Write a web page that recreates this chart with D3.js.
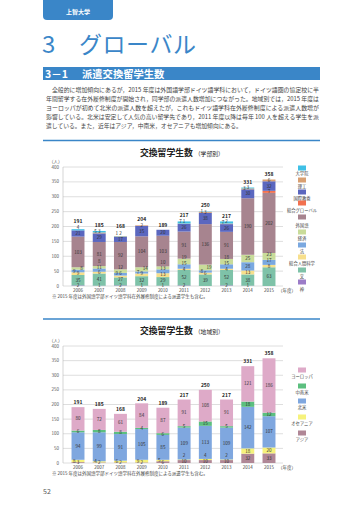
<!DOCTYPE html>
<html><head><meta charset="utf-8">
<script src="https://cdn.jsdelivr.net/npm/d3@7"></script>
<style>
html,body{margin:0;padding:0;background:#fff;}
svg{display:block;font-family:"Noto Sans CJK JP","Noto Sans",sans-serif;}
</style></head>
<body><svg id="c" width="360" height="509"></svg>
<script>
// ---------- DATA ----------
const years = ["2006","2007","2008","2009","2010","2011","2012","2013","2014","2015"];
const yTicks = [0,50,100,150,200,250,300,350,400];

// Chart 1: by faculty (stack order bottom -> top)
const facultyNames = ["神","文","総合人間科学","法","経済","外国語","総合グローバル","国際教養","理工","大学院"];
const fac_kami   = [2, 1, 2, 1, 1, 2, 0, 2, 1, 0];
const fac_bun    = [35,41,27,32,29,52,39,52,38,63];
const fac_sogo   = [9, 6, 6, 9, 13,4, 6, 4, 13,8];
const fac_ho     = [9, 11,9, 7, 13,15,8, 15,28,17];
const fac_keizai = [8, 8, 12,14,10,19,19,18,25,23];
const fac_gaikoku= [103,81,92,104,103,91,136,91,190,202];
const fac_global = [0, 0, 0, 0, 0, 0, 0, 0, 0, 7];
const fac_kokusai= [21,29,17,35,20,26,38,26,30,32];
const fac_riko   = [0, 3, 2, 2, 0, 1, 3, 2, 3, 6];
const fac_grad   = [4, 5, 1, 0, 0, 7, 1, 7, 3, 0];
const facTotals  = [191,185,168,204,189,217,250,217,331,358];

// Chart 2: by region (bottom -> top)
const regionNames = ["アジア","オセアニア","北米","中南米","ヨーロッパ"];
const reg_asia    = [3, 2, 2, 2, 6, 10,10,10,32,33];
const reg_oceania = [8, 4, 6, 9, 5, 2, 4, 2, 18,20];
const reg_na      = [94,99,91,105,85,109,113,109,142,107];
const reg_la      = [6, 8, 8, 4, 6, 5, 15,5, 18,12];
const reg_europe  = [80,72,61,84,87,91,108,91,121,186];
const regTotals   = [191,185,168,204,189,217,250,217,331,358];

const facColors = ["#9b7cc8","#7ec2a8","#f7df8c","#7aa8e0","#c9dc9a","#a7848f","#f2714f","#5b67bf","#d9a072","#3fc0e6"];
const regColors = ["#b08796","#f6f27c","#7fa7df","#5cbf7f","#deaac8"];

const blue = "#3a86c8";
const svg = d3.select("#c");

// ---------- HEADER ----------
svg.append("path").attr("d","M43,0 H113 V16 Q113,20 109,20 H47 Q43,20 43,16 Z").attr("fill",blue);
svg.append("text").attr("x",78).attr("y",13.5).attr("text-anchor","middle").attr("font-size",6).attr("fill","#fff").attr("font-weight","bold").text("上智大学");
svg.append("text").attr("x",42).attr("y",53).attr("font-size",24).attr("fill",blue).text("3");
svg.append("text").attr("x",79).attr("y",53).attr("font-size",23).attr("fill",blue).attr("textLength",117).text("グローバル");
svg.append("rect").attr("x",43).attr("y",67).attr("width",277).attr("height",13).attr("fill",blue);
svg.append("text").attr("x",45).attr("y",77.5).attr("font-size",10.5).attr("font-weight","bold").attr("fill","#fff").text("3－1");
svg.append("text").attr("x",82).attr("y",77.5).attr("font-size",10.3).attr("font-weight","bold").attr("fill","#fff").text("派遣交換留学生数");

const para = [
 "　全般的に増加傾向にあるが，2015 年度は外国語学部ドイツ語学科において，ドイツ語圏の協定校に半",
 "年間留学する在外履修制度が開始され，同学部の派遣人数増加につながった。地域別では，2015 年度は",
 "ヨーロッパが初めて北米の派遣人数を超えたが，これもドイツ語学科在外履修制度による派遣人数増が",
 "影響している。北米は安定して人気の高い留学先であり，2011 年度以降は毎年 100 人を超える学生を派",
 "遣している。また，近年はアジア，中南米，オセアニアも増加傾向にある。"
];
para.forEach((t,i)=>{
  const tx = svg.append("text").attr("x",46).attr("y",92+i*9).attr("font-size",5.8).attr("fill","#444").text(t);
  if(i<4) tx.attr("textLength",273).attr("lengthAdjust","spacingAndGlyphs");
});

// ---------- CHART FUNCTION ----------
function drawChart(opt){
  const g = svg.append("g");
  g.append("line").attr("x1",43).attr("x2",320).attr("y1",opt.lineY).attr("y2",opt.lineY).attr("stroke",blue).attr("stroke-width",1.5);
  const tt = g.append("text").attr("x",140).attr("y",opt.titleY).attr("fill","#222");
  tt.append("tspan").attr("font-size",8.8).attr("font-weight","bold").text("交換留学生数");
  tt.append("tspan").attr("font-size",5.8).attr("dx",2).text("（"+opt.sub+"）");

  const y = d3.scaleLinear().domain([0,400]).range([opt.y0,opt.y400]);
  const x = d3.scaleBand().domain(years).range([67.5,279.5]).paddingInner(0.39).paddingOuter(0.19);

  g.append("text").attr("x",49).attr("y",opt.y400-4).attr("font-size",4.5).attr("fill","#555").text("（人）");
  yTicks.forEach(v=>{
    g.append("line").attr("x1",63).attr("x2",283).attr("y1",y(v)).attr("y2",y(v)).attr("stroke", "#d6d6d6").attr("stroke-width",0.8);
    g.append("text").attr("x",59).attr("y",y(v)+1.6).attr("text-anchor","end").attr("font-size",4.5).attr("fill","#555").text(v);
  });
  g.append("line").attr("x1",63).attr("x2",63).attr("y1",y(400)).attr("y2",y(0)).attr("stroke","#bbb").attr("stroke-width",0.6);

  const rows = years.map((yr,i)=>{const o={year:yr}; opt.names.forEach((n,k)=>o[n]=opt.series[k][i]); return o;});
  const stack = d3.stack().keys(opt.names)(rows);
  stack.forEach((layer,k)=>{
    g.selectAll(null).data(layer).enter().append("rect")
      .attr("x",d=>x(d.data.year)).attr("width",x.bandwidth())
      .attr("y",d=>y(d[1])).attr("height",d=>Math.max(0,y(d[0])-y(d[1])))
      .attr("fill",opt.colors[k]);
  });

  // labels with simple collision avoidance per bar
  const fs = 4.6, lh = 5.4;
  years.forEach((yr,i)=>{
    const cx = x(yr)+x.bandwidth()/2;
    const placed = [];
    const fits = (bx,by,w)=>placed.every(p=>Math.abs(p.y-by)>=lh || Math.abs(p.x-bx)>=(p.w+w)/2+0.8);
    stack.forEach(layer=>{
      const d = layer[i]; const v = d[1]-d[0];
      if(v<=0) return;
      const w = String(v).length*2.7;
      let cy = (y(d[0])+y(d[1]))/2;
      const cands = [[cx,cy],[cx-3.6,cy],[cx+3.6,cy]];
      let pos = cands.find(c=>fits(c[0],c[1],w));
      if(!pos){
        let yy = cy; let found=null;
        for(let s=0;s<14 && !found;s++){ yy -= 1; for(const dx of [0,-3.6,3.6]){ if(fits(cx+dx,yy,w)){found=[cx+dx,yy];break;} } }
        pos = found || [cx,cy];
      }
      placed.push({x:pos[0],y:pos[1],w:w});
      g.append("text").attr("x",pos[0]).attr("y",pos[1]+1.6).attr("text-anchor","middle")
        .attr("font-size",fs).attr("fill","#333").text(v);
    });
    const tw = String(opt.totals[i]).length*2.9;
    let ty = y(opt.totals[i])-4.5;
    while(!placed.every(p=>Math.abs(p.y-ty)>=lh+0.4 || Math.abs(p.x-cx)>=(p.w+tw)/2+0.8)) ty -= 1;
    g.append("text").attr("x",cx).attr("y",ty+1.7).attr("text-anchor","middle")
      .attr("font-size",5).attr("font-weight","bold").attr("fill","#222").text(opt.totals[i]);
  });

  g.selectAll(null).data(years).enter().append("text")
    .attr("x",d=>x(d)+x.bandwidth()/2).attr("y",opt.y0+6)
    .attr("text-anchor","middle").attr("font-size",4.5).attr("fill","#444").text(d=>d);
  g.append("text").attr("x",278).attr("y",opt.y0+6).attr("font-size",4.5).attr("fill","#444").text("（年度）");
  g.append("text").attr("x",52).attr("y",opt.y0+12).attr("font-size",4.5).attr("fill","#444")
    .text("※ 2015 年度は外国語学部ドイツ語学科在外履修制度による派遣学生も含む。");

  // legend (top -> bottom)
  opt.legend.forEach((L,j)=>{
    g.append("rect").attr("x",298).attr("y",L.sy-2.5).attr("width",8).attr("height",5).attr("fill",L.color);
    g.append("text").attr("x",302).attr("y",L.ly+1.5).attr("text-anchor","middle").attr("font-size",4.3).attr("fill","#444").text(L.name);
  });
}

const facSY = [168,180,192,203,217,232,245,257,270,282];
const facLY = [173,186,198,210,225,238,251,263,276,289];
const facLegend = facultyNames.slice().reverse().map((n,j)=>({name:n,color:facColors[facultyNames.length-1-j],sy:facSY[j],ly:facLY[j]}));
drawChart({lineY:140.5,titleY:156,sub:"学部別",y0:286,y400:167,names:facultyNames,
  series:[fac_kami,fac_bun,fac_sogo,fac_ho,fac_keizai,fac_gaikoku,fac_global,fac_kokusai,fac_riko,fac_grad],
  colors:facColors,totals:facTotals,legend:facLegend});

const regSY = [370,386,401,417,433];
const regLY = [376,392,407,423,439];
const regLegend = regionNames.slice().reverse().map((n,j)=>({name:n,color:regColors[regionNames.length-1-j],sy:regSY[j],ly:regLY[j]}));
drawChart({lineY:319,titleY:334,sub:"地域別",y0:463,y400:346,names:regionNames,
  series:[reg_asia,reg_oceania,reg_na,reg_la,reg_europe],
  colors:regColors,totals:regTotals,legend:regLegend});

svg.append("text").attr("x",43).attr("y",494).attr("font-size",7).attr("fill","#555").text("52");
</script></body></html>
